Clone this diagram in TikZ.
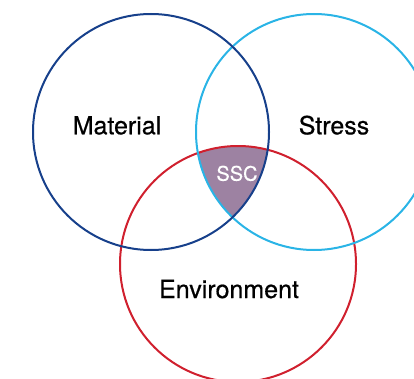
\documentclass[tikz,border=0pt]{standalone}
\usepackage{fontspec}
\setmainfont{TeX Gyre Heros}
\newfontfamily\lblfont[FakeBold=0.6]{TeX Gyre Heros}
\definecolor{matblue}{HTML}{17408B}
\definecolor{strblue}{HTML}{2AB4E6}
\definecolor{envred}{HTML}{D0202E}
\definecolor{sscfill}{HTML}{9D82A2}
\begin{document}
\begin{tikzpicture}[x=1pt,y=1pt,
  ring/.style={line width=2pt},
  lbl/.style={anchor=base,inner sep=0pt,font=\lblfont\fontsize{25}{25}\selectfont},
  ssclbl/.style={anchor=base,inner sep=0pt,text=white,font=\lblfont\fontsize{20}{20}\selectfont}]
\useasboundingbox (0,0) rectangle (414,378);
\begin{scope}
  \clip (0,0) rectangle (414,378);
  \coordinate (cm) at (151,246);
  \coordinate (cs) at (314,246);
  \coordinate (ce) at (238,114);
  \begin{scope}
    \clip (cm) circle (118);
    \clip (cs) circle (118);
    \fill[sscfill] (ce) circle (118);
  \end{scope}
  \draw[ring,envred] (ce) circle (118);
  \draw[ring,strblue] (cs) circle (118);
  \draw[ring,matblue] (cm) circle (118);
\end{scope}
\node[lbl] (mat) at (117,243.7) {Material};
\node[lbl] (str) at (334,243.7) {Stress};
\node[lbl] (env) at (229,80) {Environment};
\node[ssclbl] (ssc) at (237,197.3) {SSC};
\end{tikzpicture}
\end{document}
